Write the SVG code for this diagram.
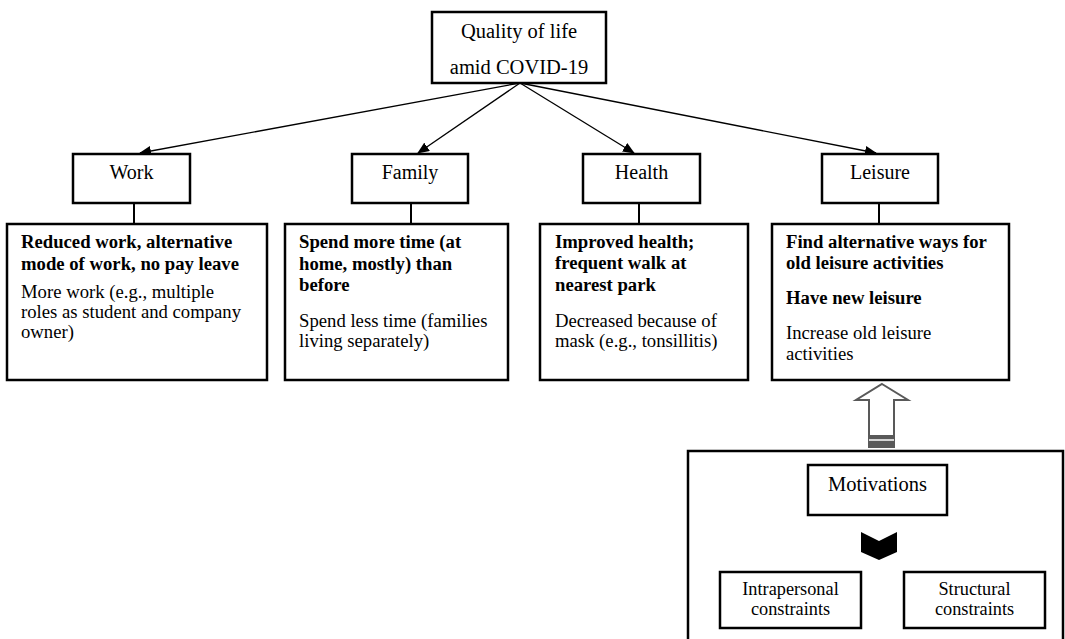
<svg xmlns="http://www.w3.org/2000/svg" width="1065" height="639" viewBox="0 0 1065 639">
<defs>
<style>
.box{fill:#fff;stroke:#000;stroke-width:2.5}
.t{font-family:"Liberation Serif","Times New Roman",serif;fill:#000}
.lab{font-size:20px;text-anchor:middle}
.top{font-size:20.5px;text-anchor:middle}
.b{font-size:18.7px;font-weight:bold}
.n{font-size:18.7px}
.sm{font-size:18.3px;text-anchor:middle}
.edge{stroke:#000;stroke-width:1.3;fill:none}
.stem{stroke:#000;stroke-width:2;fill:none}
</style>
<marker id="ah" markerUnits="userSpaceOnUse" markerWidth="12" markerHeight="10" viewBox="0 0 12 10" refX="11" refY="5" orient="auto">
<path d="M0,0 L12,5 L0,10 Z" fill="#000"/>
</marker>
</defs>
<rect width="1065" height="639" fill="#fff"/>

<g id="constraints-panel">
<rect class="box" x="688" y="451" width="375" height="200"/>
</g>

<g id="connectors">
<line class="edge" x1="520" y1="83" x2="140" y2="153" marker-end="url(#ah)"/>
<line class="edge" x1="520" y1="83" x2="418" y2="153" marker-end="url(#ah)"/>
<line class="edge" x1="520" y1="83" x2="634" y2="153" marker-end="url(#ah)"/>
<line class="edge" x1="520" y1="83" x2="876" y2="153" marker-end="url(#ah)"/>
<line class="stem" x1="134" y1="203" x2="134" y2="224"/>
<line class="stem" x1="411" y1="203" x2="411" y2="224"/>
<line class="stem" x1="639" y1="203" x2="639" y2="224"/>
<line class="stem" x1="879" y1="203" x2="879" y2="224"/>
<g id="hollow-arrow">
<polygon points="882,384 908,400 894,400 894,447 869,447 869,400 856,400" fill="#fff" stroke="#595959" stroke-width="2" stroke-linejoin="miter"/>
<rect x="869" y="435" width="25" height="12" fill="#595959"/>
<line x1="869" y1="440" x2="894" y2="440" stroke="#fff" stroke-width="1.5"/>
</g>
<polygon id="chevron" points="861,532 879,541 897,532 897,552 879,560 861,552" fill="#000"/>
</g>

<g id="quality">
<rect class="box" x="432" y="12" width="174" height="71"/>
<text class="t top" x="519" y="38">Quality of life</text>
<text class="t top" x="519" y="74">amid COVID-19</text>
</g>

<g id="work">
<rect class="box" x="73" y="154" width="117" height="49"/>
<text class="t lab" x="131.5" y="179">Work</text>
</g>
<g id="family">
<rect class="box" x="352" y="154" width="116" height="49"/>
<text class="t lab" x="410" y="179">Family</text>
</g>
<g id="health">
<rect class="box" x="583" y="154" width="117" height="49"/>
<text class="t lab" x="641.5" y="179">Health</text>
</g>
<g id="leisure">
<rect class="box" x="822" y="154" width="116" height="49"/>
<text class="t lab" x="880" y="179">Leisure</text>
</g>

<g id="work-detail">
<rect class="box" x="7" y="224" width="260" height="156"/>
<text class="t b" x="21" y="248">Reduced work, alternative</text>
<text class="t b" x="21" y="270">mode of work, no pay leave</text>
<text class="t n" x="21" y="298">More work (e.g., multiple</text>
<text class="t n" x="21" y="318">roles as student and company</text>
<text class="t n" x="21" y="338">owner)</text>
</g>
<g id="family-detail">
<rect class="box" x="285" y="224" width="223" height="156"/>
<text class="t b" x="299" y="248">Spend more time (at</text>
<text class="t b" x="299" y="270">home, mostly) than</text>
<text class="t b" x="299" y="291">before</text>
<text class="t n" x="299" y="327">Spend less time (families</text>
<text class="t n" x="299" y="347">living separately)</text>
</g>
<g id="health-detail">
<rect class="box" x="540" y="224" width="208" height="156"/>
<text class="t b" x="555" y="248">Improved health;</text>
<text class="t b" x="555" y="269">frequent walk at</text>
<text class="t b" x="555" y="291">nearest park</text>
<text class="t n" x="555" y="327">Decreased because of</text>
<text class="t n" x="555" y="347">mask (e.g., tonsillitis)</text>
</g>
<g id="leisure-detail">
<rect class="box" x="772" y="224" width="237" height="156"/>
<text class="t b" x="786" y="248">Find alternative ways for</text>
<text class="t b" x="786" y="269">old leisure activities</text>
<text class="t b" x="786" y="304">Have new leisure</text>
<text class="t n" x="786" y="339">Increase old leisure</text>
<text class="t n" x="786" y="360">activities</text>
</g>

<g id="motivations">
<rect class="box" x="808" y="465" width="139" height="50"/>
<text class="t top" x="877.5" y="491">Motivations</text>
</g>
<g id="intrapersonal">
<rect class="box" x="720" y="572" width="141" height="56"/>
<text class="t sm" x="790.5" y="595">Intrapersonal</text>
<text class="t sm" x="790.5" y="615">constraints</text>
</g>
<g id="structural">
<rect class="box" x="904" y="572" width="141" height="56"/>
<text class="t sm" x="974.5" y="595">Structural</text>
<text class="t sm" x="974.5" y="615">constraints</text>
</g>
</svg>
